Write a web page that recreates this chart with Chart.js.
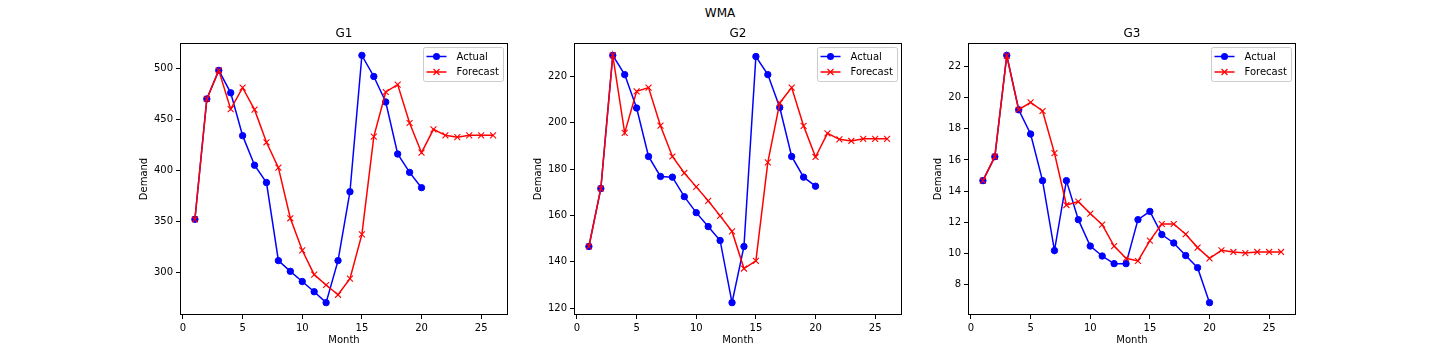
<!DOCTYPE html>
<html><head><meta charset="utf-8">
<script src="https://cdn.jsdelivr.net/npm/chart.js@4.4.0/dist/chart.umd.min.js"></script>
<style>
html,body{margin:0;padding:0;background:#fff;width:1440px;height:360px;overflow:hidden;position:relative;}
canvas{position:absolute;top:0;}
#sup{position:absolute;left:0;width:1440px;top:6px;line-height:14px;text-align:center;font-family:'DejaVu Sans',sans-serif;font-size:12px;color:#000;}
</style></head><body>
<div id="sup">WMA</div>
<canvas id="c1" width="400" height="360" style="left:120px"></canvas>
<canvas id="c2" width="400" height="360" style="left:514px"></canvas>
<canvas id="c3" width="400" height="360" style="left:908px"></canvas>
<script>
const months = [1,2,3,4,5,6,7,8,9,10,11,12,13,14,15,16,17,18,19,20,21,22,23,24,25,26];
const actualMonths = months.slice(0, 20);
const xTicks = [0,5,10,15,20,25];

const g1Actual = [352,470,498,476,434,405,388,311.5,301,291,281,270.3,311.5,379,512.7,492,467,416,398,383];
const g1Forecast = [352,470,498,460,481,459.5,427.5,402.6,353,321.6,297.7,287.6,278,293.8,337.2,433,476.8,484,446.4,417.3,440.2,434.3,432.5,434.3,434.3,434.3];
const g1YTicks = [300,350,400,450,500];

const g2Actual = [146.6,171.6,229,220.7,206.3,185.4,176.8,176.5,168.1,161.2,155.2,149.2,122.4,146.6,228.5,220.7,206.5,185.4,176.5,172.6];
const g2Forecast = [146.6,171.6,229,195.6,213.5,215.1,198.7,185.4,178.3,172.3,166.3,159.8,153.1,137.1,140.4,182.9,208.5,215.1,198.6,185.2,195.4,192.8,192.1,193,193,193];
const g2YTicks = [120,140,160,180,200,220];

const g3Actual = [14.67,16.21,22.73,19.23,17.67,14.67,10.17,14.67,12.16,10.46,9.82,9.33,9.33,12.16,12.69,11.2,10.66,9.85,9.07,6.82];
const g3Forecast = [14.67,16.21,22.7,19.23,19.7,19.15,16.44,13.1,13.32,12.55,11.84,10.46,9.67,9.5,10.81,11.88,11.88,11.22,10.36,9.67,10.19,10.08,10.01,10.08,10.08,10.08];
const g3YTicks = [8,10,12,14,16,18,20,22];

const FONT = "'DejaVu Sans', sans-serif";
const BLUE = '#0000ff', RED = '#ff0000';

function padRange(vals) {
  const mn = Math.min(...vals), mx = Math.max(...vals), r = mx - mn;
  return [mn - 0.05 * r, mx + 0.05 * r];
}

const framePlugin = {
  id: 'frame',
  afterDatasetsDraw(chart) {
    const {ctx, chartArea: a} = chart;
    ctx.save();
    ctx.strokeStyle = '#000';
    ctx.lineWidth = 1;
    ctx.strokeRect(Math.round(a.left) + 0.5, Math.round(a.top) + 0.5,
                   Math.round(a.right - a.left) - 1, Math.round(a.bottom - a.top) - 1);
    ctx.restore();
  }
};

const axTitlePlugin = {
  id: 'axTitle',
  afterDraw(chart, args, opts) {
    const {ctx, chartArea: a} = chart;
    ctx.save();
    ctx.fillStyle = '#000';
    ctx.font = '12px ' + FONT;
    ctx.textAlign = 'center';
    ctx.textBaseline = 'middle';
    ctx.fillText(opts.text, (a.left + a.right) / 2, a.top - 9.5);
    ctx.restore();
  }
};

const legendPlugin = {
  id: 'boxLegend',
  afterDraw(chart) {
    const {ctx, chartArea: a} = chart;
    const w = 80, h = 34;
    const x = Math.round(a.right) - 5 - w + 0.5, y = Math.round(a.top) + 4 + 0.5;
    ctx.save();
    ctx.beginPath();
    const r = 2;
    ctx.moveTo(x + r, y);
    ctx.lineTo(x + w - r, y); ctx.quadraticCurveTo(x + w, y, x + w, y + r);
    ctx.lineTo(x + w, y + h - r); ctx.quadraticCurveTo(x + w, y + h, x + w - r, y + h);
    ctx.lineTo(x + r, y + h); ctx.quadraticCurveTo(x, y + h, x, y + h - r);
    ctx.lineTo(x, y + r); ctx.quadraticCurveTo(x, y, x + r, y);
    ctx.closePath();
    ctx.fillStyle = 'rgba(255,255,255,0.8)';
    ctx.fill();
    ctx.strokeStyle = '#cccccc';
    ctx.lineWidth = 1;
    ctx.stroke();
    chart.data.datasets.forEach((ds, i) => {
      const cy = y + 9 + i * 15.5;
      ctx.strokeStyle = ds.borderColor;
      ctx.lineWidth = 1.5;
      ctx.beginPath(); ctx.moveTo(x + 3, cy); ctx.lineTo(x + 23, cy); ctx.stroke();
      const mx = x + 13;
      if (ds.pointStyle === 'circle') {
        ctx.fillStyle = ds.borderColor;
        ctx.beginPath(); ctx.arc(mx, cy, 3.5, 0, Math.PI * 2); ctx.fill();
      } else {
        ctx.lineWidth = 1.2;
        ctx.beginPath();
        ctx.moveTo(mx - 3, cy - 3); ctx.lineTo(mx + 3, cy + 3);
        ctx.moveTo(mx - 3, cy + 3); ctx.lineTo(mx + 3, cy - 3);
        ctx.stroke();
      }
      ctx.fillStyle = '#000';
      ctx.font = '10px ' + FONT;
      ctx.textBaseline = 'middle';
      ctx.textAlign = 'left';
      ctx.fillText(ds.label, x + 33, cy + 0.5);
    });
    ctx.restore();
  }
};

function makeChart(id, title, actual, forecast, yTicks, yTitlePad) {
  const [xmin, xmax] = padRange(months);
  const [ymin, ymax] = padRange(actual.concat(forecast));
  const tickFont = {family: FONT, size: 10};
  return new Chart(document.getElementById(id), {
    type: 'line',
    data: {
      datasets: [
        {
          label: 'Actual',
          data: actualMonths.map((m, i) => ({x: m, y: actual[i]})),
          borderColor: BLUE, backgroundColor: BLUE,
          borderWidth: 1.5, tension: 0, fill: false,
          pointStyle: 'circle', pointRadius: 3.2, pointBorderWidth: 1,
          pointBackgroundColor: BLUE, pointBorderColor: BLUE,
          order: 2
        },
        {
          label: 'Forecast',
          data: months.map((m, i) => ({x: m, y: forecast[i]})),
          borderColor: RED, backgroundColor: RED,
          borderWidth: 1.5, tension: 0, fill: false,
          pointStyle: 'crossRot', pointRadius: 4.2, pointBorderWidth: 1.1,
          pointBackgroundColor: RED, pointBorderColor: RED,
          order: 1
        }
      ]
    },
    options: {
      responsive: false,
      animation: false,
      events: [],
      layout: {padding: {left: 0, right: 12, top: 43, bottom: 0}},
      plugins: {
        legend: {display: false},
        tooltip: {enabled: false},
        title: {display: false},
        axTitle: {text: title}
      },
      scales: {
        x: {
          type: 'linear', min: xmin, max: xmax, offset: false,
          afterBuildTicks: s => { s.ticks = xTicks.map(v => ({value: v})); },
          afterFit: s => { s.height = 45; },
          grid: {display: true, drawOnChartArea: false, drawTicks: true, tickLength: 4, color: '#000', lineWidth: 1},
          border: {display: false},
          ticks: {color: '#000', font: tickFont, padding: 3, maxRotation: 0, autoSkip: false},
          title: {display: true, text: 'Month', color: '#000', font: tickFont, padding: {top: 0, bottom: 14}}
        },
        y: {
          type: 'linear', min: ymin, max: ymax,
          afterBuildTicks: s => { s.ticks = yTicks.map(v => ({value: v})); },
          afterFit: s => { s.width = 60; },
          grid: {display: true, drawOnChartArea: false, drawTicks: true, tickLength: 4, color: '#000', lineWidth: 1},
          border: {display: false},
          ticks: {color: '#000', font: tickFont, padding: 3, autoSkip: false},
          title: {display: true, text: 'Demand', color: '#000', font: tickFont, padding: {top: yTitlePad, bottom: 0}}
        }
      }
    },
    plugins: [framePlugin, axTitlePlugin, legendPlugin]
  });
}

makeChart('c1', 'G1', g1Actual, g1Forecast, g1YTicks, 18);
makeChart('c2', 'G2', g2Actual, g2Forecast, g2YTicks, 18);
makeChart('c3', 'G3', g3Actual, g3Forecast, g3YTicks, 24);
</script>
</body></html>
